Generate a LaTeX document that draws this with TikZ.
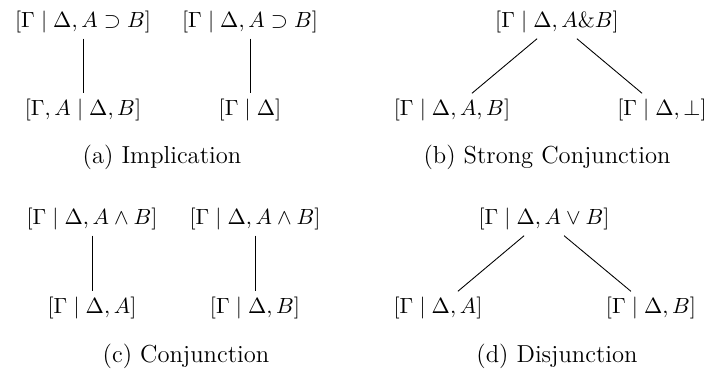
\documentclass[tikz,border=0pt]{standalone}
\usepackage{tikz}
\usetikzlibrary{positioning}

\begin{document}
\begin{tikzpicture}[x=0.016cm,y=-0.016cm,seq/.style={inner sep=2.4pt},caption/.style={inner sep=0pt,font=\fontsize{11.2}{13}\selectfont}]
\useasboundingbox (0,0) rectangle (710,376);
% (a) implication
\node[seq] (a1) at (83,22) {$[\Gamma \mid \Delta, A \supset B]$};
\node[seq] (a2) at (250,22) {$[\Gamma \mid \Delta, A \supset B]$};
\node[seq] (a3) at (83,110) {$[\Gamma, A \mid \Delta, B]$};
\node[seq] (a4) at (250,110) {$[\Gamma \mid \Delta]$};
\draw (a1) -- (a3); \draw (a2) -- (a4);
\node[caption] (capa) at (162,157) {(a) Implication};
% (b) strong conjunction
\node[seq] (b1) at (557,22) {$[\Gamma \mid \Delta, A \& B]$};
\node[seq] (b2) at (452,110) {$[\Gamma \mid \Delta, A, B]$};
\node[seq] (b3) at (662,110) {$[\Gamma \mid \Delta, \bot]$};
\draw (b1) -- (b2); \draw (b1) -- (b3);
\node[caption] (capb) at (547,157) {(b) Strong Conjunction};
% (c) conjunction
\node[seq] (c1) at (92,219) {$[\Gamma \mid \Delta, A \wedge B]$};
\node[seq] (c2) at (255,219) {$[\Gamma \mid \Delta, A \wedge B]$};
\node[seq] (c3) at (92,308) {$[\Gamma \mid \Delta, A]$};
\node[seq] (c4) at (255,308) {$[\Gamma \mid \Delta, B]$};
\draw (c1) -- (c3); \draw (c2) -- (c4);
\node[caption] (capc) at (186,356) {(c) Conjunction};
% (d) disjunction
\node[seq] (d1) at (544,219) {$[\Gamma \mid \Delta, A \vee B]$};
\node[seq] (d2) at (438,308) {$[\Gamma \mid \Delta, A]$};
\node[seq] (d3) at (651,308) {$[\Gamma \mid \Delta, B]$};
\draw (d1) -- (d2); \draw (d1) -- (d3);
\node[caption] (capd) at (557,356) {(d) Disjunction};
\end{tikzpicture}
\end{document}
